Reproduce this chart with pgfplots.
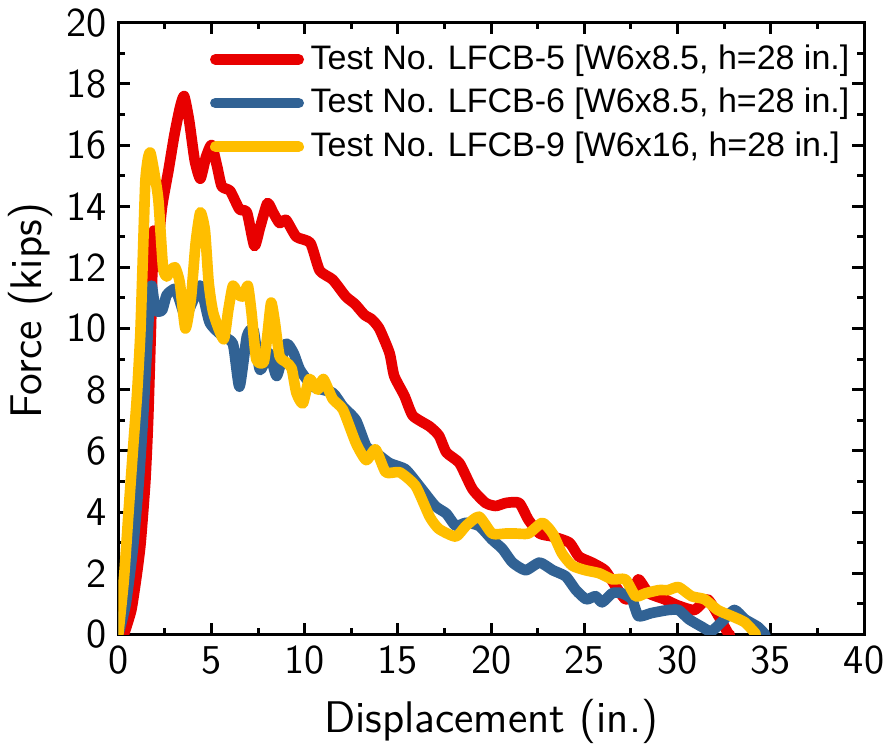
\documentclass[border=0pt]{standalone}
\usepackage{pgfplots}
\pgfplotsset{compat=1.18}
\usepackage{fontspec}
\newfontfamily\legendfont{Liberation Sans}
\definecolor{cred}{RGB}{232,0,0}
\definecolor{cblue}{RGB}{49,98,148}
\definecolor{cyellow}{RGB}{255,190,0}
\begin{document}
\begin{tikzpicture}
\begin{axis}[
  scale only axis,
  width=223.8pt, height=183.6pt,
  xmin=0, xmax=40, ymin=0, ymax=20,
  xtick={0,5,...,40}, ytick={0,2,...,20},
  minor x tick num=1, minor y tick num=1,
  tick align=inside,
  major tick length=3.5pt, minor tick length=2pt,
  axis line style={line width=0.9pt},
  every tick/.style={black, line width=0.9pt},
  /pgf/number format/assume math mode=true,
  tick label style={font=\sffamily\fontsize{12.3}{14}\selectfont},
  xlabel={Displacement (in.)},
  ylabel={Force (kips)},
  xlabel style={font=\sffamily\fontsize{13.3}{15}\selectfont, inner sep=0pt,
    at={(axis description cs:0.5,0)}, anchor=base, yshift=-29.3pt},
  ylabel style={font=\sffamily\fontsize{13.3}{15}\selectfont, inner sep=0pt,
    at={(axis description cs:-0.118,0.529)}, anchor=center},
  legend cell align=left,
  legend style={at={(1,1)}, anchor=north east, xshift=0.8pt, yshift=-2.4pt,
    draw=none, fill=none, font=\legendfont\fontsize{10.2}{12}\selectfont,
    row sep=0.2pt},
  legend image code/.code={\draw[#1, line cap=round] (0pt,0pt) -- (25pt,0pt);},
  every axis plot/.append style={line width=3.2pt, line join=round, line cap=round, smooth, tension=0.35},
]
\addplot[cred] coordinates {
(0.3,0) (0.7,0.8) (1.0,2.0) (1.2,3.0) (1.45,5.0) (1.6,7.0) (1.75,10.0) (1.85,12.5) (1.9,13.2) (2.0,12.0) (2.1,12.5) (2.35,14.0) (2.7,15.2) (3.0,16.3) (3.3,17.2) (3.53,17.6) (3.8,16.8) (4.1,15.5) (4.4,14.9) (4.7,15.6) (5.0,16.0) (5.3,15.3) (5.55,14.65) (6.0,14.5) (6.5,13.9) (6.9,13.8) (7.3,12.7) (7.6,13.3) (8.0,14.1) (8.3,13.8) (8.65,13.45) (9.0,13.55) (9.55,13.0) (10.3,12.8) (10.8,11.9) (11.5,11.6) (12.2,11.05) (12.7,10.8) (13.2,10.45) (13.6,10.3) (14.0,10.0) (14.55,9.2) (14.8,8.45) (15.35,7.8) (15.8,7.15) (16.7,6.8) (17.2,6.5) (17.6,5.95) (18.3,5.6) (19.0,4.75) (19.7,4.3) (20.25,4.2) (20.8,4.3) (21.5,4.3) (22.0,3.75) (22.6,3.3) (23.3,3.2) (24.2,3.0) (24.7,2.55) (25.4,2.35) (26.1,2.1) (26.65,1.6) (27.2,1.15) (27.6,1.3) (27.9,1.8) (28.45,1.35) (29.3,1.15) (30.0,0.95) (30.9,0.8) (31.6,1.15) (32.2,0.6) (32.7,0.05) (32.8,0)
};
\addlegendentry{Test No. LFCB-5 [W6x8.5, h=28 in.]}
\addplot[cblue] coordinates {
(0,0) (0.4,1.0) (0.8,2.9) (1.1,5.0) (1.35,7.3) (1.55,9.5) (1.7,11.1) (1.8,11.4) (2.0,10.6) (2.35,10.6) (2.6,11.1) (3.05,11.3) (3.3,10.9) (3.6,10.4) (4.0,10.9) (4.4,11.4) (4.9,10.2) (5.6,9.75) (6.15,9.5) (6.5,8.1) (6.9,9.75) (7.25,9.95) (7.6,8.65) (8.1,9.2) (8.5,8.45) (9.0,9.5) (9.4,9.2) (9.75,8.65) (10.45,8.1) (11.5,7.9) (12.05,7.45) (12.75,7.0) (13.3,6.15) (13.8,5.95) (14.55,5.6) (15.4,5.4) (16.15,4.85) (17.0,4.2) (17.6,3.95) (18.1,3.55) (18.65,3.65) (19.35,3.55) (20.05,3.1) (20.6,2.8) (21.15,2.35) (21.85,2.1) (22.6,2.35) (23.3,2.1) (24.0,1.9) (24.55,1.45) (25.1,1.15) (25.6,1.25) (25.95,1.05) (26.5,1.35) (27.0,1.35) (27.55,1.15) (27.9,0.6) (28.6,0.7) (29.5,0.8) (30.05,0.8) (30.6,0.5) (31.3,0.25) (31.8,0.1) (32.35,0.4) (33.05,0.8) (33.6,0.5) (34.3,0.25) (34.7,0)
};
\addlegendentry{Test No. LFCB-6 [W6x8.5, h=28 in.]}
\addplot[cyellow] coordinates {
(0,0) (0.3,1.8) (0.55,4.0) (0.8,6.15) (1.0,7.8) (1.18,9.8) (1.3,12.0) (1.45,14.8) (1.6,15.6) (1.72,15.75) (1.9,15.2) (2.15,14.2) (2.4,12.0) (2.6,11.7) (2.8,11.9) (3.05,12.0) (3.3,11.5) (3.6,10.0) (3.9,11.0) (4.15,12.8) (4.4,13.8) (4.65,13.2) (4.85,11.5) (5.1,10.5) (5.65,9.65) (5.9,10.6) (6.15,11.4) (6.45,11.1) (6.7,11.05) (6.95,11.4) (7.15,10.5) (7.4,9.0) (7.8,8.9) (8.0,9.8) (8.2,10.85) (8.4,10.2) (8.65,9.1) (9.0,8.9) (9.3,8.7) (9.55,7.9) (9.9,7.55) (10.25,8.35) (10.7,8.0) (11.0,8.35) (11.5,7.7) (12.05,7.35) (12.75,6.25) (13.3,5.7) (13.8,6.05) (14.35,5.3) (15.1,5.3) (15.95,4.85) (16.7,3.85) (17.2,3.45) (18.1,3.2) (18.65,3.55) (19.35,3.85) (20.05,3.3) (20.8,3.3) (21.3,3.3) (22.0,3.3) (22.75,3.65) (23.3,3.3) (23.8,2.65) (24.35,2.25) (25.05,2.1) (25.8,2.0) (26.5,1.8) (27.2,1.8) (27.75,1.25) (28.3,1.35) (29.0,1.45) (29.5,1.45) (30.05,1.55) (30.75,1.25) (31.45,1.15) (32.15,0.8) (32.9,0.6) (33.6,0.4) (34.15,0.05) (34.2,0)
};
\addlegendentry{Test No. LFCB-9 [W6x16, h=28 in.]}
\coordinate (sw) at (rel axis cs:0,0);
\coordinate (ne) at (rel axis cs:1,1);
\end{axis}
\pgfresetboundingbox
\path ([shift={(-35.5pt,-32.7pt)}]sw) rectangle ([shift={(7.2pt,6.8pt)}]ne);
\end{tikzpicture}
\end{document}
